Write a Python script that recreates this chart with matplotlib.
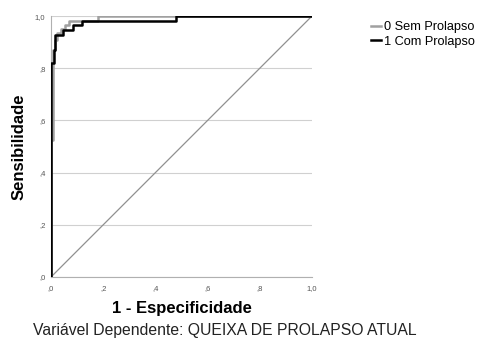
import matplotlib
matplotlib.use("Agg")
import matplotlib.pyplot as plt
from matplotlib.ticker import FuncFormatter

plt.rcParams['font.family'] = ['Liberation Sans', 'DejaVu Sans']

# curvas ROC (1 - especificidade, sensibilidade)
fpr_sem = [0.0, 0.0, 0.009, 0.009, 0.015, 0.015, 0.022, 0.022, 0.037, 0.037, 0.054, 0.054, 0.07, 0.07, 0.18, 0.18, 1.0]
tpr_sem = [0.0, 0.525, 0.525, 0.87, 0.87, 0.908, 0.908, 0.935, 0.935, 0.95, 0.95, 0.965, 0.965, 0.98, 0.98, 1.0, 1.0]

fpr_com = [0.0, 0.0, 0.012, 0.012, 0.017, 0.017, 0.047, 0.047, 0.083, 0.083, 0.117, 0.117, 0.48, 0.48, 1.0]
tpr_com = [0.0, 0.819, 0.819, 0.87, 0.87, 0.927, 0.927, 0.946, 0.946, 0.965, 0.965, 0.98, 0.98, 1.0, 1.0]

ref = [0.0, 1.0]
ticks = [0.0, 0.2, 0.4, 0.6, 0.8, 1.0]

fig = plt.figure(figsize=(4.98, 3.42), dpi=100)
ax = fig.add_axes([0.1024, 0.190, 0.524, 0.763])

ax.plot(ref, ref, color='#909090', lw=0.9, zorder=2)
ax.plot(fpr_sem, tpr_sem, color='#a0a0a0', lw=1.8, label='0 Sem Prolapso', zorder=3)
ax.plot(fpr_com, tpr_com, color='black', lw=1.8, label='1 Com Prolapso', zorder=4)

ax.set_xlim(0, 1)
ax.set_ylim(0, 1)
ax.set_xticks(ticks)
ax.set_yticks(ticks)

def virgula(v, pos):
    s = '%.1f' % v
    if s.startswith('0'):
        s = s[1:]
    return s.replace('.', ',')

ax.xaxis.set_major_formatter(FuncFormatter(virgula))
ax.yaxis.set_major_formatter(FuncFormatter(virgula))
ax.tick_params(length=0, labelsize=5.5, colors='#555555', pad=4)
ax.tick_params(axis='x', pad=6)

ax.grid(axis='y', color='#d0d0d0', lw=0.8)
ax.set_axisbelow(True)
for s in ['top', 'right']:
    ax.spines[s].set_visible(False)
ax.spines['left'].set_color('#b0b0b0')
ax.spines['bottom'].set_color('#b0b0b0')

ax.set_xlabel('1 - Especificidade', fontsize=12, fontweight='bold', labelpad=6)
ax.set_ylabel('Sensibilidade', fontsize=12, fontweight='bold', labelpad=6)

ax.legend(loc='upper left', bbox_to_anchor=(1.205, 1.0), frameon=False,
          fontsize=9.2, handlelength=0.85, handletextpad=0.2, labelspacing=0.2,
          borderaxespad=0)

fig.text(0.066, 0.02, 'Variável Dependente: QUEIXA DE PROLAPSO ATUAL', fontsize=11.3, color='#222222')

fig.savefig('out.png', dpi=100)
